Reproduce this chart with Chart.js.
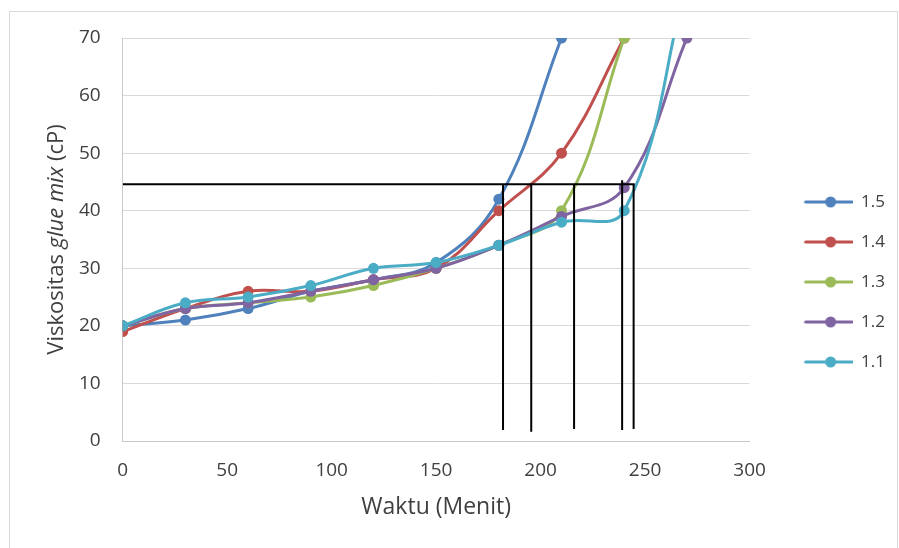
<!DOCTYPE html>
<html>
<head>
<meta charset="utf-8">
<script src="https://cdn.jsdelivr.net/npm/chart.js@4"></script>
<style>
  html, body { margin: 0; padding: 0; background: #fff; }
  #wrap { width: 899px; height: 548px; position: relative; }
</style>
</head>
<body>
<div id="wrap"><canvas id="chart"></canvas></div>
<script>
// data
const waktu = [0, 30, 60, 90, 120, 150, 180, 210, 240, 270];
const seriesNames = ["1.5", "1.4", "1.3", "1.2", "1.1"];
const s15 = [20, 21, 23, 26, 28, 31, 42, 70];
const s14 = [19, 23, 26, 26, 28, 30, 40, 50, 70];
const s13 = [20, 23, 24, 25, 27, 30, 34, 40, 70];
const s12 = [20, 23, 24, 26, 28, 30, 34, 39, 44, 70];
const s11 = [20, 24, 25, 27, 30, 31, 34, 38, 40, 80];
const colors = ["#4F81BD", "#C0504D", "#9BBB59", "#8064A2", "#4BACC6"];

// black guide lines
const refLevel = 44.6;
const refStart = 0;
const refEnd = 245;
const refX = [182, 195.5, 216, 239, 244.5];
const refTop = [44.6, 44.6, 44.6, 45.3, 44.6];
const refBottom = [1.9, 1.6, 2.1, 1.9, 2.1];

const xTicks = [0, 50, 100, 150, 200, 250, 300];
const yTicks = [0, 10, 20, 30, 40, 50, 60, 70];

const FONT = "'Open Sans', sans-serif";
const TEXT = "#404040";

function toPoints(vals) {
  return vals.map((v, i) => ({ x: waktu[i], y: v }));
}

// small line+marker icons for the legend
function legendIcon(color) {
  const c = document.createElement("canvas");
  c.width = 80;
  c.height = 12;
  const g = c.getContext("2d");
  g.strokeStyle = color;
  g.lineWidth = 3;
  g.lineCap = "round";
  g.beginPath();
  g.moveTo(33, 6);
  g.lineTo(79, 6);
  g.stroke();
  g.fillStyle = color;
  g.beginPath();
  g.arc(58, 6, 5.5, 0, Math.PI * 2);
  g.fill();
  return c;
}
const icons = colors.map(legendIcon);

const allSeries = [s15, s14, s13, s12, s11];
const datasets = allSeries.map((vals, i) => ({
  label: seriesNames[i],
  data: toPoints(vals),
  borderColor: colors[i],
  backgroundColor: colors[i],
  borderWidth: 3,
  pointRadius: 5.5,
  pointBorderWidth: 0,
  pointHoverRadius: 5.5,
  tension: 0.4,
  order: 5 - i
}));

// horizontal guide
datasets.push({
  label: "_ref",
  data: [{ x: refStart, y: refLevel }, { x: refEnd, y: refLevel }],
  borderColor: "#000",
  borderWidth: 2,
  pointRadius: 0,
  tension: 0,
  order: 0
});
// vertical guides
refX.forEach((x, i) => {
  datasets.push({
    label: "_ref",
    data: [{ x: x, y: refBottom[i] }, { x: x, y: refTop[i] }],
    borderColor: "#000",
    borderWidth: 2,
    pointRadius: 0,
    tension: 0,
    order: 0
  });
});

const framePlugin = {
  id: "frame",
  beforeDraw(chart) {
    const ctx = chart.ctx;
    ctx.save();
    ctx.fillStyle = "#fff";
    ctx.fillRect(0, 0, chart.width, chart.height);
    ctx.strokeStyle = "#D9D9D9";
    ctx.lineWidth = 1;
    ctx.strokeRect(9.5, 11.5, 888, 545);
    ctx.restore();
  }
};

// y title with italic part
const yTitlePlugin = {
  id: "yTitle",
  afterDraw(chart) {
    const ctx = chart.ctx;
    const area = chart.chartArea;
    const parts = [
      { t: "Viskositas ", f: "22px " + FONT },
      { t: "glue mix", f: "italic 22px " + FONT },
      { t: " (cP)", f: "22px " + FONT }
    ];
    ctx.save();
    let total = 0;
    parts.forEach(p => { ctx.font = p.f; p.w = ctx.measureText(p.t).width; total += p.w; });
    ctx.translate(57, (area.top + area.bottom) / 2);
    ctx.rotate(-Math.PI / 2);
    ctx.fillStyle = TEXT;
    ctx.textBaseline = "middle";
    let x = -total / 2;
    parts.forEach(p => { ctx.font = p.f; ctx.fillText(p.t, x, 0); x += p.w; });
    ctx.restore();
  }
};

new Chart(document.getElementById("chart"), {
  type: "line",
  data: { datasets },
  plugins: [framePlugin, yTitlePlugin],
  options: {
    responsive: true,
    maintainAspectRatio: false,
    animation: false,
    layout: { padding: { top: 38, bottom: 22, left: 57, right: 4 } },
    plugins: {
      tooltip: { enabled: false },
      legend: {
        position: "right",
        labels: {
          usePointStyle: true,
          pointStyleWidth: 80,
          padding: 23,
          color: TEXT,
          font: { family: FONT, size: 17 },
          filter: item => item.text !== "_ref",
          sort: (a, b) => a.datasetIndex - b.datasetIndex,
          generateLabels(chart) {
            const items = Chart.defaults.plugins.legend.labels.generateLabels(chart);
            items.forEach(it => {
              if (it.datasetIndex < icons.length) it.pointStyle = icons[it.datasetIndex];
            });
            return items;
          }
        }
      }
    },
    scales: {
      x: {
        type: "linear",
        min: 0,
        max: 300,
        afterBuildTicks(scale) { scale.ticks = xTicks.map(v => ({ value: v })); },
        afterFit(scale) { scale.height = 85; },
        grid: { display: false, drawTicks: false },
        border: { display: true, color: "#C8C8C8", width: 1 },
        ticks: { color: TEXT, padding: 18, font: { family: FONT, size: 19 } },
        title: {
          display: true,
          text: "Waktu (Menit)",
          color: TEXT,
          font: { family: FONT, size: 23 },
          padding: { top: 0, bottom: 5 }
        }
      },
      y: {
        min: 0,
        max: 70,
        afterBuildTicks(scale) { scale.ticks = yTicks.map(v => ({ value: v })); },
        grid: { color: "#D9D9D9", drawTicks: false },
        border: { display: true, color: "#C8C8C8", width: 1 },
        ticks: { color: TEXT, padding: 22, font: { family: FONT, size: 19 } }
      }
    }
  }
});
</script>
</body>
</html>
